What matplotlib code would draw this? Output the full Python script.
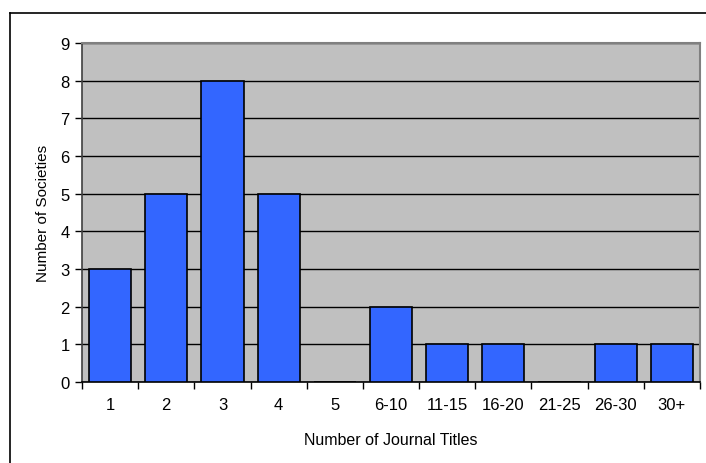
import numpy as np
import matplotlib.pyplot as plt
from matplotlib.lines import Line2D

plt.rcParams['font.family'] = ['Liberation Sans', 'DejaVu Sans']

# Distribuzione delle societa' per numero di riviste
categorie = ['1', '2', '3', '4', '5', '6-10', '11-15', '16-20', '21-25', '26-30', '30+']
societa = [3, 5, 8, 5, 0, 2, 1, 1, 0, 1, 1]

W, H = 706, 464
fig = plt.figure(figsize=(W / 100, H / 100), dpi=100)
ax = fig.add_axes([82 / W, 1 - 383 / H, 618 / W, 339 / H])

x = np.arange(len(categorie))
ax.set_facecolor('#C0C0C0')
ax.bar(x, societa, width=0.75, color='#3366FF', edgecolor='black', linewidth=1.2, zorder=3)

ax.set_xlim(-0.5, len(categorie) - 0.5)
ax.set_ylim(0, 9)
ax.set_yticks(range(0, 10))
ax.yaxis.grid(True, color='black', linewidth=1.0, zorder=0)
ax.set_axisbelow(True)

# tacche sull'asse x tra le categorie, etichette al centro
ax.set_xticks(np.arange(-0.5, len(categorie), 1.0))
ax.set_xticklabels([])
ax.set_xticks(x, minor=True)
ax.set_xticklabels(categorie, minor=True)
ax.tick_params(axis='x', which='minor', length=0, pad=11, labelsize=12)
ax.tick_params(axis='x', which='major', length=5, width=1, color='black', direction='out')
ax.tick_params(axis='y', length=5, width=1, color='black', labelsize=12, pad=4)

for lato in ['top', 'right']:
    ax.spines[lato].set_color('#808080')
    ax.spines[lato].set_linewidth(1.5)
ax.spines['left'].set_color('#404040')
ax.spines['left'].set_linewidth(1.2)
ax.spines['bottom'].set_color('black')
ax.spines['bottom'].set_linewidth(1.2)

ax.set_xlabel('Number of Journal Titles', fontsize=11.5, labelpad=14)
ax.set_ylabel('Number of Societies', fontsize=11, labelpad=7)

# cornice del grafico (lati sinistro e superiore)
fig.add_artist(Line2D([10 / W, 10 / W], [0, 1 - 14 / H], transform=fig.transFigure, color='black', linewidth=1.2))
fig.add_artist(Line2D([10 / W, 1], [1 - 14 / H, 1 - 14 / H], transform=fig.transFigure, color='black', linewidth=1.2))

fig.savefig('out.png', dpi=100)
